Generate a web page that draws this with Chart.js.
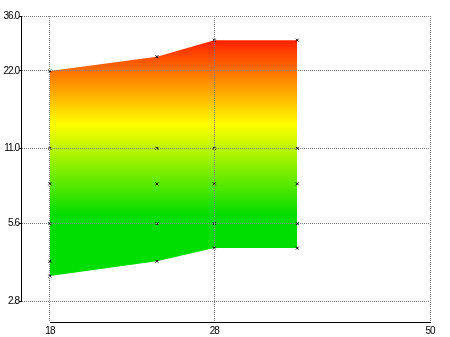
<!DOCTYPE html>
<html>
<head>
<meta charset="utf-8">
<script src="https://cdn.jsdelivr.net/npm/chart.js@4/dist/chart.umd.min.js"></script>
<style>
  body { margin: 0; background: #ffffff; }
  #grafico { display: block; }
</style>
</head>
<body>
<canvas id="grafico" width="450" height="337"></canvas>
<script>
// pontos do eixo x e limites da faixa
const xs = [18, 24, 28, 35];
const superior = [22, 25, 29, 29];
const inferior = [3.5, 4.0, 4.5, 4.5];

// marcadores em cada coluna
const marcadores = [
    [22, 11, 8, 5.6, 4.0, 3.5],
    [25, 11, 8, 5.6, 4.0],
    [29, 11, 8, 5.6, 4.5],
    [29, 11, 8, 5.6, 4.5]
];

const ticksX = [18, 28, 50];
const ticksY = [2.8, 5.6, 11.0, 22.0, 36.0];

const xMin = 16.7, xMax = 50;
const yMin = 2.32, yMax = 36;

const fonte = { family: "'Liberation Sans', Arial, sans-serif", size: 10 };

const pontosSup = xs.map((x, i) => ({ x: x, y: superior[i] }));
const pontosInf = xs.map((x, i) => ({ x: x, y: inferior[i] }));
const pontosMarc = [];
marcadores.forEach((col, i) => col.forEach(v => pontosMarc.push({ x: xs[i], y: v })));

// degradê vertical: vermelho em cima, amarelo no meio, verde embaixo
function degrade(context) {
    const chart = context.chart;
    if (!chart.chartArea) return null;
    const y = chart.scales.y;
    const topo = y.getPixelForValue(29);
    const base = y.getPixelForValue(6);
    const meio = (y.getPixelForValue(13.6) - topo) / (base - topo);
    const g = chart.ctx.createLinearGradient(0, topo, 0, base);
    g.addColorStop(0, '#ff2000');
    g.addColorStop(meio, '#ffff00');
    g.addColorStop(1, '#00dd00');
    return g;
}

// texto mais apertado (o canvas perde o estado quando é redimensionado)
const apertado = {
    id: 'apertado',
    beforeUpdate(chart) { chart.ctx.letterSpacing = '-1px'; },
    beforeDraw(chart) { chart.ctx.letterSpacing = '-1px'; }
};

// linhas dos eixos só entre o primeiro e o último tick
const eixos = {
    id: 'eixos',
    afterDraw(chart) {
        const ctx = chart.ctx;
        const sx = chart.scales.x, sy = chart.scales.y;
        const area = chart.chartArea;
        ctx.save();
        ctx.strokeStyle = '#000000';
        ctx.lineWidth = 1;
        ctx.beginPath();
        ctx.moveTo(Math.round(area.left) - 0.5, Math.round(sy.getPixelForValue(36)));
        ctx.lineTo(Math.round(area.left) - 0.5, Math.round(sy.getPixelForValue(2.8)) + 1);
        ctx.moveTo(Math.round(sx.getPixelForValue(18)), Math.round(area.bottom) + 0.5);
        ctx.lineTo(Math.round(sx.getPixelForValue(50)) + 1, Math.round(area.bottom) + 0.5);
        ctx.stroke();
        ctx.restore();
    }
};

const ctx = document.getElementById('grafico').getContext('2d');

const myChart = new Chart(ctx, {
    type: 'line',
    data: {
        datasets: [{
            data: pontosSup,
            borderWidth: 0,
            borderColor: 'rgba(0,0,0,0)',
            backgroundColor: degrade,
            pointRadius: 0,
            fill: '+1',
            order: 2
        }, {
            data: pontosInf,
            borderWidth: 0,
            borderColor: 'rgba(0,0,0,0)',
            pointRadius: 0,
            fill: false,
            order: 2
        }, {
            data: pontosMarc,
            showLine: false,
            pointStyle: 'crossRot',
            pointRadius: 2,
            pointBorderWidth: 1,
            pointBorderColor: '#000000',
            pointBackgroundColor: '#000000',
            order: 1
        }]
    },
    options: {
        responsive: false,
        animation: false,
        devicePixelRatio: 1,
        layout: { padding: { top: 16, right: 20, left: 0, bottom: 0 } },
        plugins: {
            legend: { display: false },
            tooltip: { enabled: false }
        },
        scales: {
            x: {
                type: 'logarithmic',
                min: xMin,
                max: xMax,
                bounds: 'data',
                afterBuildTicks: s => { s.ticks = ticksX.map(v => ({ value: v })); },
                afterFit: s => { s.height = 15; },
                border: { display: false, dash: [1, 1] },
                grid: {
                    z: 1,
                    color: '#808080',
                    drawTicks: false
                },
                ticks: {
                    autoSkip: false,
                    maxRotation: 0,
                    padding: 3,
                    color: '#000000',
                    font: fonte,
                    callback: v => String(v)
                }
            },
            y: {
                type: 'logarithmic',
                min: yMin,
                max: yMax,
                bounds: 'data',
                afterBuildTicks: s => { s.ticks = ticksY.map(v => ({ value: v })); },
                afterFit: s => { s.width = 22; },
                border: { display: false, dash: [1, 1] },
                grid: {
                    z: 1,
                    color: '#808080',
                    tickLength: 3,
                    tickColor: '#000000',
                    tickBorderDash: []
                },
                ticks: {
                    padding: 0,
                    color: '#000000',
                    font: fonte,
                    callback: v => v.toFixed(1)
                }
            }
        }
    },
    plugins: [apertado, eixos]
});
</script>
</body>
</html>
